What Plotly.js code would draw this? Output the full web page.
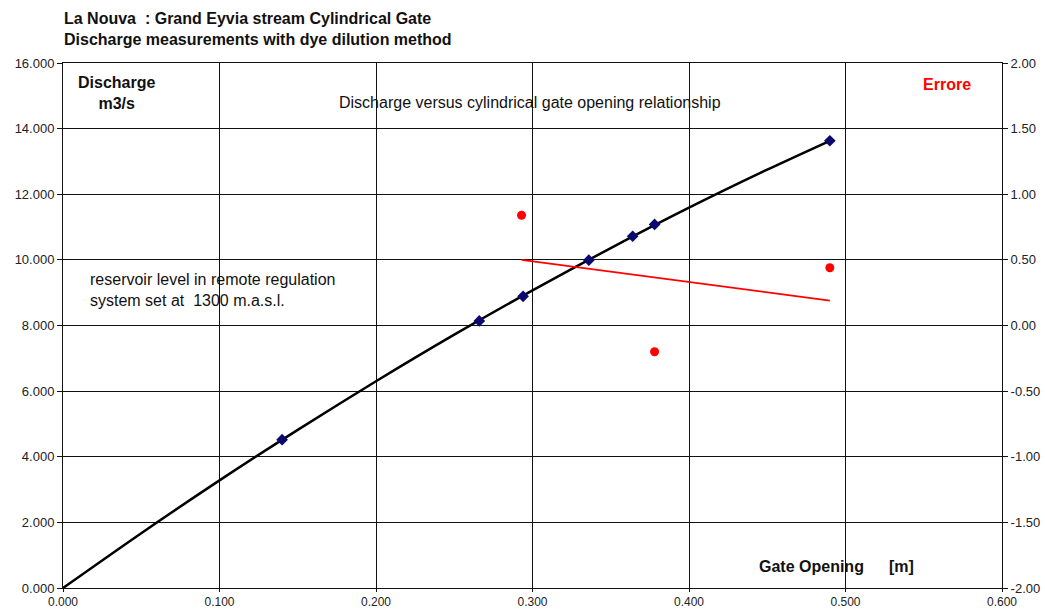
<!DOCTYPE html>
<html><head><meta charset="utf-8">
<script src="https://cdn.plot.ly/plotly-3.0.1.min.js"></script>
<style>html,body{margin:0;padding:0;background:#fff}#chart{width:1045px;height:611px}</style>
</head><body><div id="chart"></div>
<script>
// Measured discharge (blue diamonds)
const gateOpening = [0.140, 0.266, 0.294, 0.336, 0.364, 0.378, 0.490];
const discharge   = [4.52, 8.14, 8.89, 9.99, 10.72, 11.08, 13.63];
// Discharge curve (black line)
const curveX = [0.000, 0.050, 0.100, 0.150, 0.200, 0.250, 0.300, 0.350, 0.400, 0.450, 0.490];
const curveY = [0.00, 1.67, 3.28, 4.82, 6.30, 7.72, 9.07, 10.36, 11.59, 12.75, 13.63];
// Error (red, right axis)
const errX = [0.293, 0.378, 0.490];
const errY = [0.84, -0.20, 0.44];
const errTrendX = [0.293, 0.490];
const errTrendY = [0.50, 0.19];

const xTicks = [0, 0.1, 0.2, 0.3, 0.4, 0.5, 0.6];
const xTickText = ['0.000', '0.100', '0.200', '0.300', '0.400', '0.500', '0.600'];
const yTicks = [0, 2, 4, 6, 8, 10, 12, 14, 16];
const yTickText = ['0.000', '2.000', '4.000', '6.000', '8.000', '10.000', '12.000', '14.000', '16.000'];
const y2Ticks = [-2, -1.5, -1, -0.5, 0, 0.5, 1, 1.5, 2];
const y2TickText = ['-2.00', '-1.50', '-1.00', '-0.50', '0.00', '0.50', '1.00', '1.50', '2.00'];

const FONT = 'Liberation Sans, Arial, sans-serif';

const traces = [
  {x: curveX, y: curveY, mode: 'lines', line: {color: '#000', width: 2.5, shape: 'spline', smoothing: 0.8}, hoverinfo: 'skip'},
  {x: gateOpening, y: discharge, mode: 'markers', marker: {symbol: 'diamond', color: '#0a0a6e', size: 9}},
  {x: errTrendX, y: errTrendY, mode: 'lines', yaxis: 'y2', line: {color: '#ff0000', width: 1.7}},
  {x: errX, y: errY, mode: 'markers', yaxis: 'y2', marker: {symbol: 'circle', color: '#ff0000', size: 9}}
];

const axisCommon = {
  showgrid: true, gridcolor: '#111', gridwidth: 1,
  showline: true, linecolor: '#111', linewidth: 1,
  ticks: 'outside', ticklen: 5, tickcolor: '#111',
  zeroline: false, tickfont: {family: FONT, size: 13, color: '#222'}
};

const layout = {
  width: 1045, height: 611,
  margin: {l: 63, r: 43, t: 63, b: 23},
  paper_bgcolor: '#fff', plot_bgcolor: '#fff',
  showlegend: false,
  font: {family: FONT},
  xaxis: Object.assign({}, axisCommon, {range: [0, 0.6], tickvals: xTicks, ticktext: xTickText, mirror: true,
    ticklen: 3, tickfont: {family: FONT, size: 12, color: '#222'}}),
  yaxis: Object.assign({}, axisCommon, {range: [0, 16], tickvals: yTicks, ticktext: yTickText}),
  yaxis2: Object.assign({}, axisCommon, {range: [-2, 2], tickvals: y2Ticks, ticktext: y2TickText, overlaying: 'y', side: 'right', showgrid: false}),
  annotations: [
    {xref: 'paper', yref: 'paper', x: 0, y: 1.104, xshift: -1, xanchor: 'left', yanchor: 'top', align: 'left', showarrow: false,
     text: '<b>La Nouva  : Grand Eyvia stream Cylindrical Gate<br>Discharge measurements with dye dilution method</b>',
     font: {family: FONT, size: 16, color: '#111'}},
    {xref: 'x', yref: 'y', x: 0.0345, y: 15.74, xanchor: 'center', yanchor: 'top', align: 'center', showarrow: false,
     text: '<b>Discharge<br>m3/s</b>', font: {family: FONT, size: 16, color: '#111'}},
    {xref: 'x', yref: 'y', x: 0.5649, y: 15.36, xanchor: 'center', yanchor: 'middle', showarrow: false,
     text: '<b>Errore</b>', font: {family: FONT, size: 16, color: '#ff0000'}},
    {xref: 'x', yref: 'y', x: 0.2984, y: 14.81, xanchor: 'center', yanchor: 'middle', showarrow: false,
     text: 'Discharge versus cylindrical gate opening relationship', font: {family: FONT, size: 16, color: '#111'}},
    {xref: 'x', yref: 'y', x: 0.016, y: 9.73, xanchor: 'left', yanchor: 'top', align: 'left', showarrow: false,
     text: 'reservoir level in remote regulation<br>system set at  1300 m.a.s.l.', font: {family: FONT, size: 16, color: '#111'}},
    {xref: 'x', yref: 'y', x: 0.4435, y: 0.668, xanchor: 'left', yanchor: 'middle', showarrow: false,
     text: '<b>Gate Opening</b>', font: {family: FONT, size: 16, color: '#111'}},
    {xref: 'x', yref: 'y', x: 0.5265, y: 0.668, xanchor: 'left', yanchor: 'middle', showarrow: false,
     text: '<b>[m]</b>', font: {family: FONT, size: 16, color: '#111'}}
  ]
};

Plotly.newPlot('chart', traces, layout, {displayModeBar: false, staticPlot: true});
</script></body></html>
